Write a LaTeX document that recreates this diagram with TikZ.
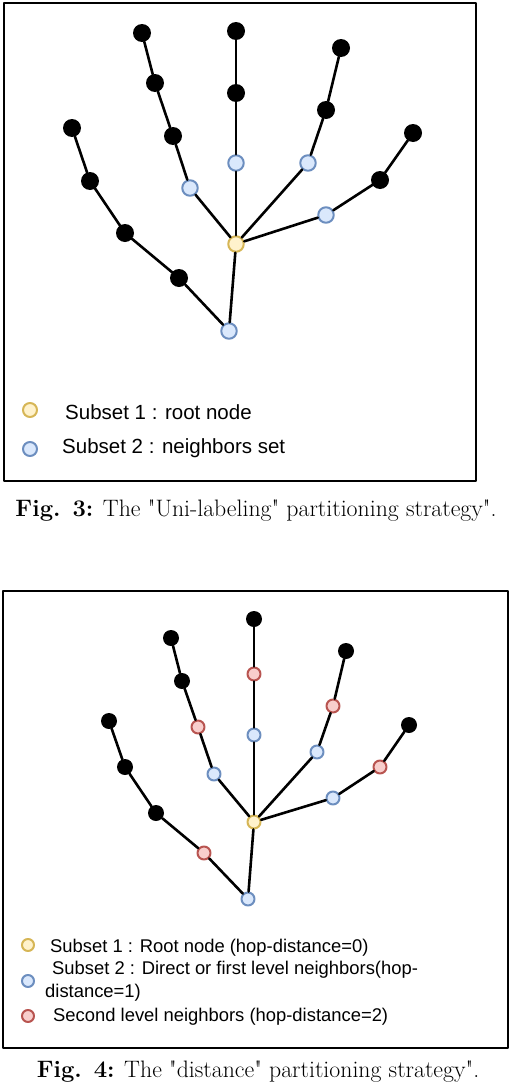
\documentclass[tikz,border=0pt]{standalone}
\usepackage{fontspec}
\newfontfamily\legendfont{Liberation Sans}
\definecolor{rootfill}{HTML}{FFF2CC}
\definecolor{rootline}{HTML}{D6B656}
\definecolor{hopfill}{HTML}{DAE8FC}
\definecolor{hopline}{HTML}{6C8EBF}
\definecolor{farfill}{HTML}{F8CECC}
\definecolor{farline}{HTML}{B85450}

\begin{document}
\begin{tikzpicture}[x=1pt,y=-1pt,line cap=round,line join=round,
    joint/.style={circle,fill=black,inner sep=0pt,minimum size=#1},
    rootjoint/.style={circle,draw=rootline,fill=rootfill,line width=2pt,inner sep=0pt,minimum size=#1},
    hopjoint/.style={circle,draw=hopline,fill=hopfill,line width=2pt,inner sep=0pt,minimum size=#1},
    farjoint/.style={circle,draw=farline,fill=farfill,line width=2pt,inner sep=0pt,minimum size=#1},
    bone/.style={line width=2.6pt},
    frame/.style={line width=2.4pt},
    legendtext/.style={anchor=base west,inner sep=0pt,font=\legendfont\fontsize{#1}{23}\selectfont},
    figcaption/.style={anchor=base,inner sep=0pt,font=\fontsize{23.8}{28}\selectfont}]
        \useasboundingbox (0,0) rectangle (510,1084);

        % ---------- Fig. 3: uni-labeling ----------
        \draw[frame] (4,3) rectangle (476,481);

        % articulaciones
        \node[rootjoint=15.5pt] (u-root) at (236,244) {};
        \node[hopjoint=15.5pt]  (u-wrist) at (229,331) {};
        \node[joint=18pt] (u-th1) at (179,278) {};
        \node[joint=18pt] (u-th2) at (125,233) {};
        \node[joint=18pt] (u-th3) at (90,181) {};
        \node[joint=18pt] (u-th4) at (72,128) {};
        \node[hopjoint=15.5pt] (u-ix1) at (190,188) {};
        \node[joint=18pt] (u-ix2) at (173,136) {};
        \node[joint=18pt] (u-ix3) at (155,83) {};
        \node[joint=18pt] (u-ix4) at (142,33) {};
        \node[hopjoint=15.5pt] (u-md1) at (236,163) {};
        \node[joint=18pt] (u-md2) at (236,93) {};
        \node[joint=18pt] (u-md3) at (236,31) {};
        \node[hopjoint=15.5pt] (u-rg1) at (308,163) {};
        \node[joint=18pt] (u-rg2) at (326,110) {};
        \node[joint=18pt] (u-rg3) at (341,48) {};
        \node[hopjoint=15.5pt] (u-pk1) at (326,215) {};
        \node[joint=18pt] (u-pk2) at (380,180) {};
        \node[joint=18pt] (u-pk3) at (413,133) {};

        % huesos
        \draw[bone] (u-root) -- (u-wrist) -- (u-th1) -- (u-th2) -- (u-th3) -- (u-th4);
        \draw[bone] (u-root) -- (u-ix1) -- (u-ix2) -- (u-ix3) -- (u-ix4);
        \draw[bone] (u-root) -- (u-md1) -- (u-md2) -- (u-md3);
        \draw[bone] (u-root) -- (u-rg1) -- (u-rg2) -- (u-rg3);
        \draw[bone] (u-root) -- (u-pk1) -- (u-pk2) -- (u-pk3);

        % leyenda
        \node[rootjoint=14pt] (u-key1) at (30,410) {};
        \node[hopjoint=14pt]  (u-key2) at (30,449) {};
        \node[legendtext=20.5] (u-lab1) at (65,419) {Subset 1 : root node};
        \node[legendtext=20.5] (u-lab2) at (62,453) {Subset 2 : neighbors set};

        \node[figcaption] (u-cap) at (256,516)
            {\textbf{Fig. 3:} The \textquotedbl Uni-labeling\textquotedbl{} partitioning strategy\textquotedbl.};

        % ---------- Fig. 4: distance ----------
        \draw[frame] (3,591) rectangle (508,1048);

        % articulaciones
        \node[rootjoint=13pt] (d-root) at (254,822) {};
        \node[hopjoint=13pt]  (d-wrist) at (248,899) {};
        \node[farjoint=13pt] (d-th1) at (204,853) {};
        \node[joint=16pt] (d-th2) at (156,813) {};
        \node[joint=16pt] (d-th3) at (125,767) {};
        \node[joint=16pt] (d-th4) at (109,721) {};
        \node[hopjoint=13pt] (d-ix1) at (214,774) {};
        \node[farjoint=13pt] (d-ix2) at (198,727) {};
        \node[joint=16pt] (d-ix3) at (182,681) {};
        \node[joint=16pt] (d-ix4) at (171,638) {};
        \node[hopjoint=13pt] (d-md1) at (254,735) {};
        \node[farjoint=13pt] (d-md2) at (254,674) {};
        \node[joint=16pt] (d-md3) at (254,619) {};
        \node[hopjoint=13pt] (d-rg1) at (317,752) {};
        \node[farjoint=13pt] (d-rg2) at (333,706) {};
        \node[joint=16pt] (d-rg3) at (346,651) {};
        \node[hopjoint=13pt] (d-pk1) at (333,798) {};
        \node[farjoint=13pt] (d-pk2) at (380,767) {};
        \node[joint=16pt] (d-pk3) at (409,725) {};

        % huesos
        \draw[bone] (d-root) -- (d-wrist) -- (d-th1) -- (d-th2) -- (d-th3) -- (d-th4);
        \draw[bone] (d-root) -- (d-ix1) -- (d-ix2) -- (d-ix3) -- (d-ix4);
        \draw[bone] (d-root) -- (d-md1) -- (d-md2) -- (d-md3);
        \draw[bone] (d-root) -- (d-rg1) -- (d-rg2) -- (d-rg3);
        \draw[bone] (d-root) -- (d-pk1) -- (d-pk2) -- (d-pk3);

        % leyenda
        \node[rootjoint=12pt] (d-key1) at (28,945) {};
        \node[hopjoint=12pt]  (d-key2) at (28,981) {};
        \node[farjoint=12pt]  (d-key3) at (28,1016) {};
        \node[legendtext=18.4] (d-lab1) at (50,952) {Subset 1 : Root node (hop-distance=0)};
        \node[legendtext=18.4,align=left] (d-lab2) at (45,997)
            {\hspace{7pt}Subset 2 : Direct or first level neighbors(hop-\\distance=1)};
        \node[legendtext=18.4] (d-lab3) at (53,1021) {Second level neighbors (hop-distance=2)};

        \node[figcaption] (d-cap) at (258,1077)
            {\textbf{Fig. 4:} The \textquotedbl distance\textquotedbl{} partitioning strategy\textquotedbl.};
\end{tikzpicture}
\end{document}
